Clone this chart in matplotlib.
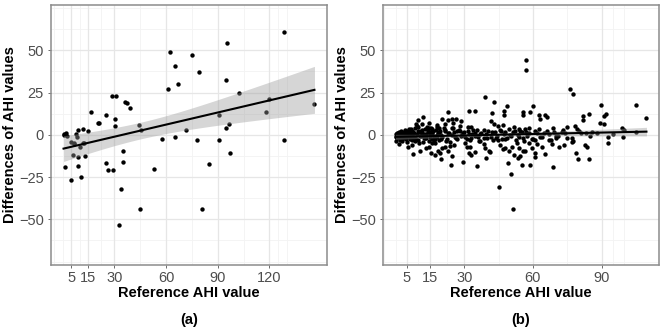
import numpy as np
import matplotlib
matplotlib.use("Agg")
import matplotlib.pyplot as plt

plt.rcParams['font.family'] = ['Liberation Sans', 'DejaVu Sans']

# ---------------- data: panel (a) ----------------
xa = [0.6, 1.8, 2.5, 1.0, 4.9, 6.4, 6.6, 8.0, 8.4, 8.7, 10.3, 12.2, 12.0, 14.5,
      6.2, 8.7, 12.8, 16.8, 20.3, 21.3, 25.4, 25.2, 28.8, 31.3, 30.4, 30.2,
      36.0, 37.5, 39.1, 34.8, 35.2, 44.1, 45.7, 57.5, 60.9, 62.1, 65.2, 67.1,
      65.2, 71.8, 75.1, 79.3, 78.2, 85.1, 90.5, 90.9, 95.2, 95.0, 96.6, 94.6,
      97.1, 102.2, 118.2, 119.8, 128.5, 128.5, 146.1,
      1.6, 4.9, 8.9, 10.7, 26.1, 29.4, 34.1, 32.9, 44.9, 53.2, 80.9, 11.8]
ya = [0.4, 1.0, -0.6, -0.2, -4.1, -5.1, -5.5, 0.4, -1.0, 3.0, -6.9, -4.7, 3.7, 2.2,
      -11.8, -13.4, -12.8, 13.4, 6.8, 7.1, 11.6, -16.4, 22.7, 22.7, 9.1, 5.3,
      19.5, 18.7, 15.8, -9.7, -15.8, 5.9, 3.0, -2.2, 27.0, 48.9, 41.0, 30.2,
      -1.2, 2.6, 47.5, 37.3, -2.8, -17.4, 12.0, -2.8, 54.6, 32.3, 6.7, 3.8,
      -10.6, 25.0, 13.8, 21.3, 61.1, -3.2, 18.3,
      -19.2, -26.8, -18.5, -24.8, -20.9, -20.9, -32.2, -53.3, -43.6, -20.3, -43.6, -5.1]

# ---------------- data: panel (b) ----------------
xb_up = [57.2, 57.2, 76.3, 77.5, 39.2, 43.0, 104.9, 89.9, 109.6, 48.7, 47.2, 59.9,
         55.7, 55.7, 58.8, 62.6, 62.9, 65.5, 66.2, 31.9, 34.8, 22.9, 42.1, 41.5,
         42.9, 47.2, 46.9, 82.1, 84.5, 81.8, 78.6, 75.0, 79.3, 92.1, 91.2, 89.4,
         90.9, 99.0, 68.7, 62.6, 58.2, 51.6, 53.8, 44.8, 12.2, 9.7, 11.5, 9.1,
         14.4, 14.7, 21.7, 20.2, 23.1, 24.6, 26.4, 25.2, 28.1, 28.7, 31.6, 33.1,
         18.8, 15.9, 18.0, 21.7, 24.6, 26.8, 29.7, 34.8, 38.5, 47.9, 55.3, 67.0,
         72.8, 83.0]
yb_up = [44.4, 38.1, 27.4, 24.3, 22.1, 19.7, 17.8, 17.6, 9.9, 16.8, 14.2, 17.0,
         13.8, 11.6, 13.6, 12.0, 9.5, 11.8, 10.8, 14.4, 14.2, 13.8, 12.8, 7.9,
         6.5, 11.8, 5.9, 11.2, 12.2, 8.9, 5.5, 4.9, 3.7, 12.6, 11.2, 6.9,
         6.5, 4.3, 4.1, 3.4, 3.9, 4.9, 3.6, 5.1, 10.5, 8.5, 6.5, 6.5,
         6.9, 4.3, 6.5, 9.5, 8.5, 9.3, 9.3, 6.9, 5.3, 7.9, 4.5, 4.9,
         3.9, 3.4, 4.9, 2.6, 3.9, 2.0, 1.6, 1.0, 3.0, 1.4, 1.4, 0.6,
         1.4, 1.0]
xb_low = [0.0, 1.3, 5.6, 7.1, 13.2, 14.4, 15.9, 17.3, 20.2, 21.7, 23.9, 25.5,
          30.2, 31.2, 32.6, 37.0, 38.5, 39.2, 44.8, 45.8, 46.8, 48.0, 50.9, 53.1,
          53.8, 56.0, 58.2, 59.7, 61.1, 61.8, 64.0, 67.7, 68.4, 70.2, 71.4, 73.5,
          76.9, 77.5, 82.6, 83.7, 92.6, 99.3,
          7.8, 10.7, 15.6, 17.3, 18.5, 19.5, 19.7, 24.2, 29.4, 31.9, 33.1, 34.8,
          35.6, 39.5, 41.4, 45.0, 49.0, 49.4, 50.4, 51.3, 51.6, 53.5, 55.3, 55.7,
          58.6, 61.0, 61.0, 65.2, 68.8, 78.8, 79.6, 84.5,
          22.9, 40.7, 56.7, 54.5, 24.6]
yb_low = [-3.9, -5.5, -6.9, -6.1, -7.9, -6.9, -4.9, -4.9, -7.9, -6.9, -6.5, -5.9,
          -4.9, -6.9, -6.9, -3.9, -5.5, -7.9, -3.0, -5.9, -8.5, -7.9, -6.9, -4.9,
          -7.9, -3.9, -4.9, -7.9, -3.0, -5.3, -6.9, -3.0, -5.3, -2.0, -6.9, -6.3,
          -4.5, -3.4, -6.3, -6.9, -4.9, -1.4,
          -11.6, -9.3, -10.6, -11.8, -9.7, -10.8, -14.4, -17.8, -15.8, -10.8, -11.9, -10.4,
          -18.5, -13.8, -10.4, -30.6, -16.8, -9.3, -23.1, -44.0, -11.8, -13.8, -17.6, -9.3,
          -18.1, -13.2, -10.9, -11.2, -19.1, -10.9, -14.0, -14.0,
          -9.3, -9.3, -9.6, -12.8, -12.3]
xb_mid = [0.2, 0.5, 0.8, 1.0, 1.3, 1.5, 1.8, 2.0, 2.3, 2.5, 2.8, 3.0, 3.3, 3.6,
          4.0, 4.2, 4.5, 4.8, 5.0, 5.3, 5.6, 6.0, 6.3, 6.6, 7.0, 7.3, 7.6, 8.0,
          8.4, 8.8, 9.2, 9.6, 10.0, 10.5, 11.0, 11.5, 12.0, 12.5, 13.0, 13.5,
          14.0, 14.5, 15.0, 15.5, 16.0, 16.5, 17.0, 17.5, 18.0, 18.5, 19.0, 19.5,
          20.0,
          0.4, 1.1, 1.9, 2.6, 3.4, 4.1, 4.9, 5.7, 6.4, 7.2, 8.1, 8.9, 9.8, 10.7,
          11.6, 12.4, 13.3, 14.2, 15.1, 16.1, 17.1, 18.1, 19.1, 20.5, 21.5, 22.5,
          23.5, 24.5, 25.5, 26.5, 27.5, 28.5, 29.5,
          30.5, 31.5, 32.5, 33.5, 34.5, 35.5, 36.5, 37.5, 38.5, 39.5, 40.5, 41.5,
          42.5, 43.5, 44.5, 45.5, 46.5, 47.5, 48.5, 49.5, 50.5, 51.5, 52.5, 53.5,
          54.5, 55.5, 56.5, 57.5, 58.5, 59.5, 61.0, 63.0, 65.0, 67.0, 69.0, 71.0,
          73.0, 75.0, 80.0, 85.0, 88.0, 95.0, 100.0, 105.0,
          0.7, 1.6, 2.2, 3.1, 3.8, 4.6, 5.2, 6.1, 6.9, 7.8, 8.6, 9.4, 10.3, 11.2,
          12.7, 13.8, 15.3, 16.8, 18.3, 19.8, 21.0, 22.0, 23.0, 24.0, 25.0, 26.0,
          27.0, 28.0, 29.0, 31.0, 32.0, 33.0, 34.0, 36.0, 37.0, 40.0, 42.0, 44.0,
          46.0, 48.0, 50.0, 52.0, 54.0, 57.0, 60.0, 62.0, 64.0, 66.0, 70.0, 74.0,
          77.0, 81.0, 86.0, 93.0]
yb_mid = [-1.2, 0.3, -2.0, 0.8, -0.5, 1.5, -2.8, 0.2, -1.0, 2.2, -3.5, 0.9, -1.8, 1.2,
          -0.3, 2.8, -2.4, 0.5, -4.0, 1.8, -0.8, 3.2, -2.0, 0.0, 2.5, -3.0, 1.0, -1.5,
          3.8, -2.6, 0.6, 4.5, -3.2, 1.4, -0.9, 2.9, -4.4, 0.4, 3.5, -1.7,
          1.9, -3.6, 0.7, 4.0, -2.2, 2.4, -0.4, 3.0, -1.3, 1.1, -2.9, 2.0,
          0.1,
          0.6, -0.7, 1.2, -1.6, 0.3, -2.1, 2.0, -0.2, 1.6, -1.1, 0.9, -2.5, 2.3, -0.6,
          1.3, -1.9, 0.4, 2.6, -1.4, 1.0, -2.3, 0.2, 1.7, -1.0, 2.1, -2.7,
          0.8, -0.3, 1.5, -1.8, 2.7, -0.5, 0.9,
          -1.5, 2.2, -2.8, 0.5, -0.9, 3.1, -3.6, 1.2, -2.0, 0.3, 2.5, -1.2,
          -3.3, 1.8, -0.4, 2.9, -2.4, 0.7, -1.7, 3.4, -0.6, 1.5, -3.0, 0.2,
          2.0, -1.9, 3.6, -0.8, 1.0, -2.6, 2.3, -1.4, 0.8, -2.9, 1.9, -0.7,
          3.0, -1.6, 2.2, -0.9, 1.3, 0.5, 2.8, 1.5,
          1.0, -0.3, 0.5, -1.3, 1.7, -0.9, 0.2, -2.2, 3.5, 1.9, -3.8, 5.2, -4.6, 2.1,
          -2.0, 4.7, 1.6, -3.1, 5.6, -2.4, 3.9, -3.7, 1.2, -4.2, 4.2, -1.1,
          -2.6, 2.4, -0.2, -2.3, 0.6, -1.9, 2.8, -1.0, 0.4, -2.1, 1.6, -1.8,
          2.4, -2.7, 0.1, 2.1, -1.4, 1.8, -2.2, 0.9, -1.3, 2.3, -0.5, 1.1,
          -2.0, 0.8, 1.4, -1.5]
xb = xb_up + xb_low + xb_mid
yb = yb_up + yb_low + yb_mid

xticks_a = [5, 15, 30, 60, 90, 120]
xticks_b = [5, 15, 30, 60, 90]
yticks = [-50, -25, 0, 25, 50]
ylim = (-70, 70)
captions = ["(a)", "(b)"]
xlabel = "Reference AHI value"
ylabel = "Differences of AHI values"

# ---------------- drawing ----------------
W, H = 664, 332
fig = plt.figure(figsize=(W / 100, H / 100), dpi=100)

def px_axes(x0, y0, x1, y1):
    return fig.add_axes([x0 / W, 1 - y1 / H, (x1 - x0) / W, (y1 - y0) / H])

def minor_breaks(b):
    bd = b[1] - b[0]
    ext = [b[0] - bd] + list(b) + [b[-1] + bd]
    mids = [(ext[i] + ext[i + 1]) / 2 for i in range(len(ext) - 1)]
    return sorted(set(mids + [ext[0], ext[-1]]) - set(b))

def panel(ax, x, y, xt, tval, cap):
    x = np.asarray(x, float)
    y = np.asarray(y, float)
    xr = x.max() - x.min()
    xl = (x.min() - 0.05 * xr, x.max() + 0.05 * xr)
    yr = ylim[1] - ylim[0]
    yl = (ylim[0] - 0.05 * yr, ylim[1] + 0.05 * yr)
    # grid
    for v in minor_breaks(xt):
        if xl[0] < v < xl[1]:
            ax.axvline(v, color='#f3f3f3', lw=0.6, zorder=0)
    for v in minor_breaks(yticks):
        if yl[0] < v < yl[1]:
            ax.axhline(v, color='#f3f3f3', lw=0.6, zorder=0)
    for v in xt:
        ax.axvline(v, color='#e6e6e6', lw=0.9, zorder=0)
    for v in yticks:
        ax.axhline(v, color='#e6e6e6', lw=0.9, zorder=0)
    ax.scatter(x, y, s=10, color='black', linewidths=0, zorder=2)
    # linear fit with 95% CI
    n = len(x)
    b1, b0 = np.polyfit(x, y, 1)
    res = y - (b0 + b1 * x)
    s = np.sqrt(np.sum(res ** 2) / (n - 2))
    gx = np.linspace(x.min(), x.max(), 80)
    se = s * np.sqrt(1 / n + (gx - x.mean()) ** 2 / np.sum((x - x.mean()) ** 2))
    fit = b0 + b1 * gx
    ax.fill_between(gx, fit - tval * se, fit + tval * se, color='#999999',
                    alpha=0.4, linewidth=0, zorder=3)
    ax.plot(gx, fit, color='black', lw=1.5, zorder=4)
    ax.set_xlim(xl)
    ax.set_ylim(yl)
    ax.set_xticks(xt)
    ax.set_xticklabels([str(v) for v in xt])
    ax.set_yticks(yticks)
    ax.set_yticklabels([str(v).replace('-', '\u2212') for v in yticks])
    ax.tick_params(axis='both', length=2.2, width=0.6, color='#555555',
                   labelcolor='#4d4d4d', labelsize=10.5)
    ax.tick_params(axis='x', pad=2)
    ax.tick_params(axis='y', pad=3)
    for sp in ax.spines.values():
        sp.set_color('#8c8c8c')
        sp.set_linewidth(1.1)
    ax.set_xlabel(xlabel, fontsize=10.5, fontweight='bold', labelpad=1)
    ax.set_ylabel(ylabel, fontsize=10.5, fontweight='bold', labelpad=1.5)
    ax.text(0.5, -0.21, cap, transform=ax.transAxes, ha='center', va='center',
            fontsize=10.5, fontweight='bold')

axa = px_axes(51, 4.7, 327, 265)
axb = px_axes(383, 4.7, 659, 265)
panel(axa, xa, ya, xticks_a, 2.0, captions[0])
panel(axb, xb, yb, xticks_b, 1.97, captions[1])

fig.savefig('out.png', dpi=100)
